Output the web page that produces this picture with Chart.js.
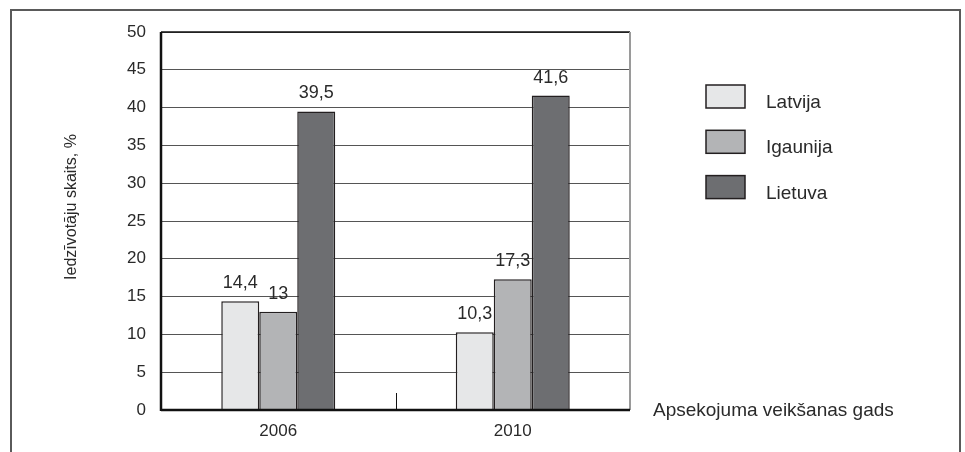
<!DOCTYPE html>
<html>
<head>
<meta charset="utf-8">
<script src="https://cdn.jsdelivr.net/npm/chart.js"></script>
<style>
  body { margin: 0; background: #fff; }
  #wrap { width: 965px; height: 452px; position: relative; }
</style>
</head>
<body>
<div id="wrap"><canvas id="BarChart"></canvas></div>
<script>
var years = ["2006", "2010"];
var latvija = [14.4, 10.3];
var igaunija = [13, 17.3];
var lietuva = [39.5, 41.6];
var seriesNames = ["Latvija", "Igaunija", "Lietuva"];
var barColors = ["#e6e7e8", "#b3b4b6", "#6d6e71"];

var fontName = "'Liberation Sans', Arial, sans-serif";
var textColor = "#2a2a2a";
var edgeColor = "#231f20";

function line(ctx, x1, y1, x2, y2) {
  ctx.beginPath();
  ctx.moveTo(x1, y1);
  ctx.lineTo(x2, y2);
  ctx.stroke();
}

var extras = {
  id: "extras",
  afterDatasetsDraw: function(chart) {
    var ctx = chart.ctx, a = chart.chartArea, xs = chart.scales.x;
    ctx.save();

    // plot frame
    ctx.strokeStyle = "#111";
    ctx.lineWidth = 1.5;
    line(ctx, a.left, a.top, a.right, a.top);
    ctx.strokeStyle = "#9a9a9a";
    ctx.lineWidth = 2;
    line(ctx, a.right, a.top, a.right, a.bottom);
    ctx.strokeStyle = "#111";
    ctx.lineWidth = 2.5;
    line(ctx, a.left, a.top, a.left, a.bottom + 1);
    line(ctx, a.left, a.bottom, a.right, a.bottom);

    // category divider
    var mid = (xs.getPixelForValue(0) + xs.getPixelForValue(1)) / 2;
    ctx.lineWidth = 1;
    line(ctx, Math.round(mid) + 0.5, a.bottom - 17, Math.round(mid) + 0.5, a.bottom);

    // value labels
    ctx.fillStyle = textColor;
    ctx.font = "18px " + fontName;
    ctx.textAlign = "center";
    ctx.textBaseline = "alphabetic";
    chart.data.datasets.forEach(function(ds, i) {
      chart.getDatasetMeta(i).data.forEach(function(bar, j) {
        ctx.fillText(String(ds.data[j]).replace(".", ","), bar.x, bar.y - 13);
      });
    });
    ctx.restore();
  },
  afterDraw: function(chart) {
    var ctx = chart.ctx;
    ctx.save();

    // outer frame
    ctx.strokeStyle = "#5a5a5a";
    ctx.lineWidth = 2;
    ctx.strokeRect(11, 10, 949, 470);

    // legend
    ctx.font = "19px " + fontName;
    ctx.textAlign = "left";
    ctx.textBaseline = "alphabetic";
    seriesNames.forEach(function(name, i) {
      var y = 85 + i * 45.3;
      ctx.fillStyle = barColors[i];
      ctx.fillRect(706, y, 39, 23);
      ctx.strokeStyle = edgeColor;
      ctx.lineWidth = 1.5;
      ctx.strokeRect(706, y, 39, 23);
      ctx.fillStyle = textColor;
      ctx.fillText(name, 766, y + 23);
    });

    // axis titles
    ctx.fillText("Apsekojuma veikšanas gads", 653, 416);
    ctx.font = "16px " + fontName;
    ctx.translate(72, 207);
    ctx.rotate(-Math.PI / 2);
    ctx.textAlign = "center";
    ctx.textBaseline = "middle";
    ctx.fillText("Iedzīvotāju skaits, %", 0, 0);
    ctx.restore();
  }
};

new Chart("BarChart", {
  type: "bar",
  data: {
    labels: years,
    datasets: [
      { label: seriesNames[0], data: latvija, backgroundColor: barColors[0] },
      { label: seriesNames[1], data: igaunija, backgroundColor: barColors[1] },
      { label: seriesNames[2], data: lietuva, backgroundColor: barColors[2] }
    ]
  },
  options: {
    responsive: true,
    maintainAspectRatio: false,
    animation: false,
    layout: { padding: { top: 32, right: 335, bottom: 0, left: 0 } },
    datasets: {
      bar: {
        borderColor: edgeColor,
        borderWidth: 1.5,
        categoryPercentage: 0.486,
        barPercentage: 1
      }
    },
    plugins: {
      legend: { display: false },
      tooltip: { enabled: false }
    },
    scales: {
      x: {
        grid: { display: false, drawTicks: false },
        border: { display: false },
        ticks: { color: textColor, font: { family: fontName, size: 17 }, padding: 11 },
        afterFit: function(s) { s.height = 42; }
      },
      y: {
        min: 0,
        max: 50,
        grid: { color: "#555", lineWidth: 1, drawTicks: false },
        border: { display: false },
        ticks: { stepSize: 5, color: textColor, font: { family: fontName, size: 17 }, padding: 15 },
        afterFit: function(s) { s.width = 161; }
      }
    }
  },
  plugins: [extras]
});
</script>
</body>
</html>
